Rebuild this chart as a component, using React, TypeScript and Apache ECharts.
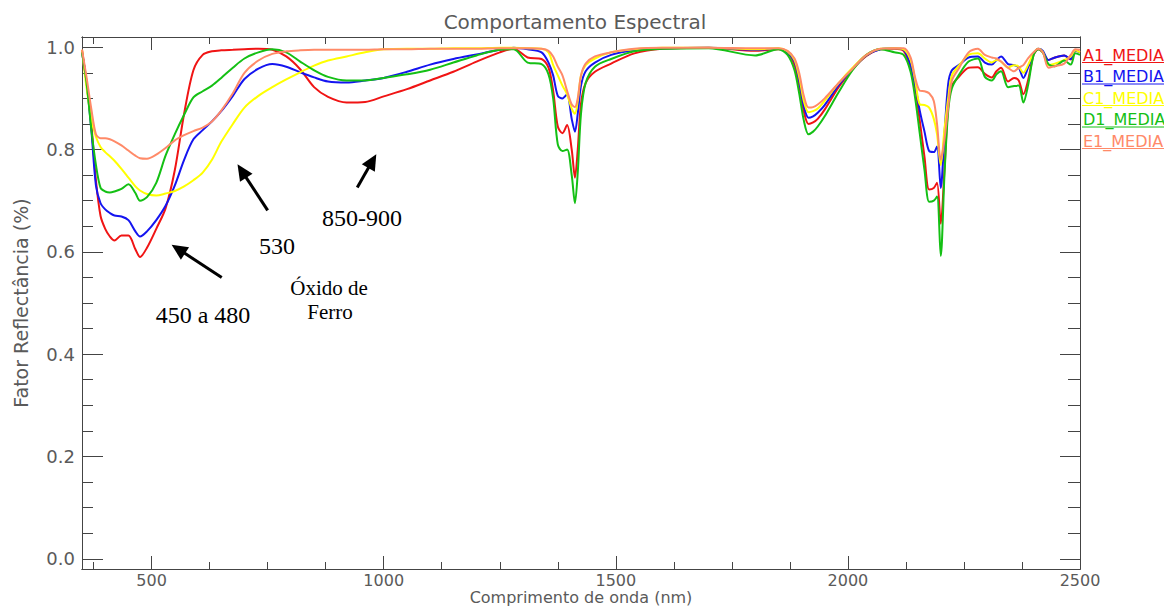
import React, { useEffect, useRef } from "react";
import * as echarts from "echarts";

const wavelengths = [350, 360, 370, 380, 390, 400, 410, 420, 435, 450, 465, 475, 490, 510, 530, 550, 570, 590, 610, 630, 650, 675, 700, 730, 760, 790, 820, 850, 880, 920, 960, 1000, 1050, 1100, 1150, 1200, 1250, 1280, 1310, 1340, 1355, 1365, 1375, 1385, 1395, 1405, 1412, 1418, 1425, 1435, 1455, 1490, 1540, 1600, 1700, 1800, 1850, 1870, 1885, 1895, 1905, 1915, 1925, 1935, 1950, 1980, 2010, 2040, 2070, 2100, 2120, 2135, 2145, 2155, 2165, 2175, 2185, 2192, 2200, 2208, 2216, 2224, 2240, 2260, 2280, 2295, 2310, 2320, 2330, 2345, 2358, 2368, 2378, 2388, 2400, 2410, 2420, 2432, 2446, 2466, 2480, 2490, 2500];

const a1Media = [0.995, 0.93, 0.85, 0.74, 0.67, 0.645, 0.63, 0.622, 0.632, 0.632, 0.605, 0.59, 0.608, 0.645, 0.685, 0.76, 0.87, 0.955, 0.985, 0.992, 0.994, 0.995, 0.996, 0.997, 0.995, 0.982, 0.957, 0.922, 0.903, 0.892, 0.893, 0.904, 0.918, 0.935, 0.952, 0.972, 0.99, 0.997, 0.98, 0.977, 0.96, 0.915, 0.845, 0.832, 0.848, 0.8, 0.745, 0.8, 0.89, 0.93, 0.952, 0.968, 0.988, 0.997, 0.999, 0.993, 0.996, 0.99, 0.965, 0.925, 0.875, 0.85, 0.853, 0.86, 0.878, 0.922, 0.957, 0.983, 0.996, 0.997, 0.993, 0.96, 0.92, 0.855, 0.785, 0.722, 0.725, 0.735, 0.655, 0.76, 0.885, 0.925, 0.943, 0.96, 0.961, 0.948, 0.941, 0.953, 0.96, 0.933, 0.94, 0.935, 0.908, 0.935, 0.985, 0.996, 0.99, 0.975, 0.98, 0.984, 0.976, 0.994, 0.99];

const b1Media = [0.99, 0.93, 0.84, 0.73, 0.695, 0.683, 0.676, 0.671, 0.669, 0.662, 0.64, 0.63, 0.64, 0.662, 0.69, 0.73, 0.78, 0.82, 0.838, 0.855, 0.875, 0.905, 0.938, 0.958, 0.967, 0.962, 0.951, 0.941, 0.933, 0.931, 0.935, 0.94, 0.952, 0.966, 0.977, 0.986, 0.995, 0.999, 0.996, 0.99, 0.97, 0.945, 0.905, 0.9, 0.908, 0.86, 0.835, 0.87, 0.925, 0.953, 0.97, 0.985, 0.994, 0.998, 0.999, 0.995, 0.997, 0.99, 0.972, 0.935, 0.885, 0.862, 0.865, 0.872, 0.887, 0.926, 0.958, 0.984, 0.996, 0.998, 0.995, 0.965, 0.925, 0.875, 0.835, 0.797, 0.795, 0.806, 0.725, 0.83, 0.928, 0.955, 0.966, 0.98, 0.982, 0.97, 0.966, 0.975, 0.982, 0.967, 0.965, 0.96, 0.94, 0.96, 0.987, 0.997, 0.993, 0.975, 0.98, 0.984, 0.977, 0.993, 0.99];

const c1Media = [0.995, 0.92, 0.86, 0.825, 0.805, 0.795, 0.787, 0.778, 0.762, 0.745, 0.728, 0.72, 0.713, 0.71, 0.714, 0.719, 0.728, 0.74, 0.755, 0.78, 0.815, 0.85, 0.882, 0.905, 0.922, 0.937, 0.951, 0.964, 0.974, 0.982, 0.99, 0.996, 0.997, 0.997, 0.998, 0.998, 0.999, 0.999, 0.998, 0.997, 0.99, 0.965, 0.945, 0.925, 0.908, 0.88, 0.87, 0.895, 0.945, 0.965, 0.978, 0.99, 0.996, 0.999, 0.999, 0.996, 0.998, 0.992, 0.975, 0.942, 0.895, 0.873, 0.875, 0.88, 0.895, 0.93, 0.96, 0.985, 0.997, 0.998, 0.996, 0.975, 0.935, 0.888, 0.887, 0.882, 0.86, 0.83, 0.77, 0.84, 0.9, 0.945, 0.965, 0.985, 0.988, 0.978, 0.97, 0.975, 0.972, 0.96, 0.965, 0.962, 0.95, 0.965, 0.988, 0.997, 0.99, 0.965, 0.968, 0.975, 0.982, 0.994, 0.99];

const d1Media = [0.99, 0.93, 0.84, 0.77, 0.725, 0.718, 0.716, 0.718, 0.723, 0.732, 0.715, 0.7, 0.707, 0.735, 0.788, 0.83, 0.868, 0.902, 0.914, 0.925, 0.94, 0.96, 0.978, 0.99, 0.996, 0.99, 0.972, 0.955, 0.942, 0.935, 0.935, 0.94, 0.947, 0.956, 0.97, 0.984, 0.995, 0.996, 0.97, 0.967, 0.947, 0.9, 0.81, 0.797, 0.8, 0.75, 0.695, 0.755, 0.87, 0.93, 0.962, 0.977, 0.992, 0.997, 0.998, 0.984, 0.996, 0.985, 0.955, 0.91, 0.857, 0.83, 0.835, 0.845, 0.865, 0.912, 0.955, 0.985, 0.996, 0.99, 0.985, 0.952, 0.9, 0.83, 0.76, 0.698, 0.7, 0.708, 0.592, 0.75, 0.875, 0.92, 0.947, 0.972, 0.978, 0.942, 0.935, 0.947, 0.953, 0.922, 0.924, 0.925, 0.892, 0.925, 0.985, 0.996, 0.99, 0.967, 0.963, 0.974, 0.966, 0.988, 0.985];

const e1Media = [0.995, 0.94, 0.88, 0.83, 0.822, 0.822, 0.82, 0.816, 0.808, 0.798, 0.788, 0.783, 0.782, 0.79, 0.803, 0.818, 0.828, 0.836, 0.843, 0.855, 0.876, 0.91, 0.95, 0.974, 0.987, 0.992, 0.994, 0.995, 0.995, 0.995, 0.995, 0.996, 0.996, 0.997, 0.997, 0.997, 0.998, 0.998, 0.998, 0.997, 0.993, 0.982, 0.962, 0.945, 0.915, 0.888, 0.883, 0.9, 0.945, 0.968, 0.982, 0.99, 0.997, 0.999, 0.999, 0.998, 0.998, 0.993, 0.978, 0.95, 0.905, 0.882, 0.883, 0.888, 0.9, 0.93, 0.958, 0.985, 0.997, 0.998, 0.998, 0.98, 0.94, 0.915, 0.914, 0.91, 0.895, 0.85, 0.78, 0.82, 0.883, 0.935, 0.96, 0.99, 0.997, 0.985, 0.98, 0.978, 0.972, 0.96, 0.953, 0.96, 0.965, 0.978, 0.99, 0.997, 0.99, 0.96, 0.963, 0.968, 0.985, 0.996, 0.995];

const seriesNames = ["A1_MEDIA", "B1_MEDIA", "C1_MEDIA", "D1_MEDIA", "E1_MEDIA"];
const seriesColors = ["#f01414", "#1414f0", "#ffff00", "#14c014", "#ff8a68"];
const seriesValues = [a1Media, b1Media, c1Media, d1Media, e1Media];

const xMajorTicks = [500, 1000, 1500, 2000, 2500];
const xMinorTicks = [375, 625, 750, 875, 1125, 1250, 1375, 1625, 1750, 1875, 2125, 2250, 2375];
const yMajorTicks = [0, 0.2, 0.4, 0.6, 0.8, 1.0];
const yMinorTicks = [0.05, 0.1, 0.15, 0.25, 0.3, 0.35, 0.45, 0.5, 0.55, 0.65, 0.7, 0.75, 0.85, 0.9, 0.95];

// arrows in data coordinates: tail [nm, value] -> head [nm, value]
const arrowTails = [[651, 0.55], [750, 0.681], [943, 0.726]];
const arrowHeads = [[543, 0.614], [685, 0.771], [984, 0.791]];

const FONT = "DejaVu Sans";
const AXIS_COLOR = "#444";
const TEXT_COLOR = "#5a5a5a";

function makeX(position: "top" | "bottom", ticks: number[], len: number, labels: boolean) {
  return {
    type: "value",
    position,
    min: 350,
    max: 2500,
    axisLine: { show: true, onZero: false, lineStyle: { color: AXIS_COLOR, width: 1 } },
    axisTick: { show: true, inside: true, length: len, customValues: ticks, lineStyle: { color: AXIS_COLOR, width: 1 } },
    axisLabel: labels
      ? { show: true, customValues: ticks, margin: 3, fontFamily: FONT, fontSize: 16, lineHeight: 16, color: TEXT_COLOR, formatter: (v: number) => String(v) }
      : { show: false },
    splitLine: { show: false },
  };
}

function makeY(position: "left" | "right", ticks: number[], len: number, labels: boolean) {
  return {
    type: "value",
    position,
    min: -0.02,
    max: 1.02,
    axisLine: { show: true, onZero: false, lineStyle: { color: AXIS_COLOR, width: 1 } },
    axisTick: { show: true, inside: true, length: len, customValues: ticks, lineStyle: { color: AXIS_COLOR, width: 1 } },
    axisLabel: labels
      ? {
          show: true,
          customValues: ticks,
          margin: 7,
          fontFamily: FONT,
          fontSize: 18,
          color: TEXT_COLOR,
          formatter: (v: number) => v.toFixed(1),
        }
      : { show: false },
    splitLine: { show: false },
  };
}

export default function App() {
  const ref = useRef<HTMLDivElement>(null);

  useEffect(() => {
    document.body.style.margin = "0";
    if (!ref.current) return;
    const chart = echarts.init(ref.current, undefined, { renderer: "svg" });

    const series: any[] = seriesNames.map((name, i) => ({
      name,
      type: "line",
      xAxisIndex: 0,
      yAxisIndex: 0,
      showSymbol: false,
      smooth: 0.3,
      data: wavelengths.map((w, k) => [w, seriesValues[i][k]]),
      lineStyle: { color: seriesColors[i], width: 2 },
      itemStyle: { color: seriesColors[i] },
      z: 2 + i,
    }));

    const legendGraphics: any[] = [];
    seriesNames.forEach((name, i) => {
      const cy = 55 + i * 21.5;
      legendGraphics.push({
        type: "text",
        x: 1083,
        y: cy,
        style: {
          text: name,
          fill: seriesColors[i],
          font: `16px "${FONT}"`,
          textAlign: "left",
          textVerticalAlign: "middle",
        },
      });
      legendGraphics.push({
        type: "line",
        shape: { x1: 1082, y1: cy + 7.5, x2: 1164, y2: cy + 7.5 },
        style: { stroke: seriesColors[i], lineWidth: 1 },
      });
    });

    const serifText = (text: string, x: number, y: number, size: number) => ({
      type: "text",
      x,
      y,
      z: 20,
      style: {
        text,
        fill: "#000",
        font: `${size}px "Liberation Serif"`,
        textAlign: "center",
        textVerticalAlign: "middle",
      },
    });

    const baseGraphics: any[] = [
      {
        type: "text",
        x: 575,
        y: 22,
        style: {
          text: "Comportamento Espectral",
          fill: TEXT_COLOR,
          font: `20px "${FONT}"`,
          textAlign: "center",
          textVerticalAlign: "middle",
        },
      },
      ...legendGraphics,
      serifText("450 a 480", 203, 315, 24),
      serifText("530", 277, 246, 24),
      serifText("850-900", 362, 218, 24),
      serifText("Óxido de", 329, 288, 21),
      serifText("Ferro", 330, 312, 21),
    ];

    chart.setOption({
      animation: false,
      backgroundColor: "#fff",
      grid: { left: 82, right: 84, top: 37, bottom: 38, containLabel: false, outerBoundsMode: "none" },
      xAxis: [
        { ...makeX("bottom", xMajorTicks, 13, true), name: "Comprimento de onda (nm)", nameLocation: "middle", nameGap: 20, nameMoveOverlap: false, nameTextStyle: { fontFamily: FONT, fontSize: 16, lineHeight: 16, color: TEXT_COLOR } },
        makeX("bottom", xMinorTicks, 7, false),
        makeX("top", xMajorTicks, 13, false),
        makeX("top", xMinorTicks, 7, false),
      ],
      yAxis: [
        { ...makeY("left", yMajorTicks, 21, true), name: "Fator Reflectância (%)", nameLocation: "middle", nameGap: 52, nameMoveOverlap: false, nameTextStyle: { fontFamily: FONT, fontSize: 19, color: TEXT_COLOR } },
        makeY("left", yMinorTicks, 11, false),
        makeY("right", yMajorTicks, 20, false),
        makeY("right", yMinorTicks, 12, false),
      ],
      series,
      graphic: baseGraphics,
    });

    // arrows: convert data coordinates to pixels through the grid
    const arrowGraphics: any[] = [];
    arrowTails.forEach((tail, i) => {
      const p0 = chart.convertToPixel({ gridIndex: 0 }, tail) as number[];
      const p1 = chart.convertToPixel({ gridIndex: 0 }, arrowHeads[i]) as number[];
      const dx = p1[0] - p0[0];
      const dy = p1[1] - p0[1];
      const len = Math.sqrt(dx * dx + dy * dy);
      const ux = dx / len;
      const uy = dy / len;
      const headLen = 16;
      const headW = 7.5;
      const bx = p1[0] - ux * headLen;
      const by = p1[1] - uy * headLen;
      arrowGraphics.push({
        type: "line",
        z: 20,
        shape: { x1: p0[0], y1: p0[1], x2: bx + ux * 2, y2: by + uy * 2 },
        style: { stroke: "#000", lineWidth: 3 },
      });
      arrowGraphics.push({
        type: "polygon",
        z: 20,
        shape: {
          points: [
            [p1[0], p1[1]],
            [bx - uy * headW, by + ux * headW],
            [bx + uy * headW, by - ux * headW],
          ],
        },
        style: { fill: "#000" },
      });
    });

    chart.setOption({ graphic: [...baseGraphics, ...arrowGraphics] });

    return () => {
      chart.dispose();
    };
  }, []);

  return <div ref={ref} style={{ position: "absolute", left: 0, top: 0, width: 1164, height: 607 }} />;
}
